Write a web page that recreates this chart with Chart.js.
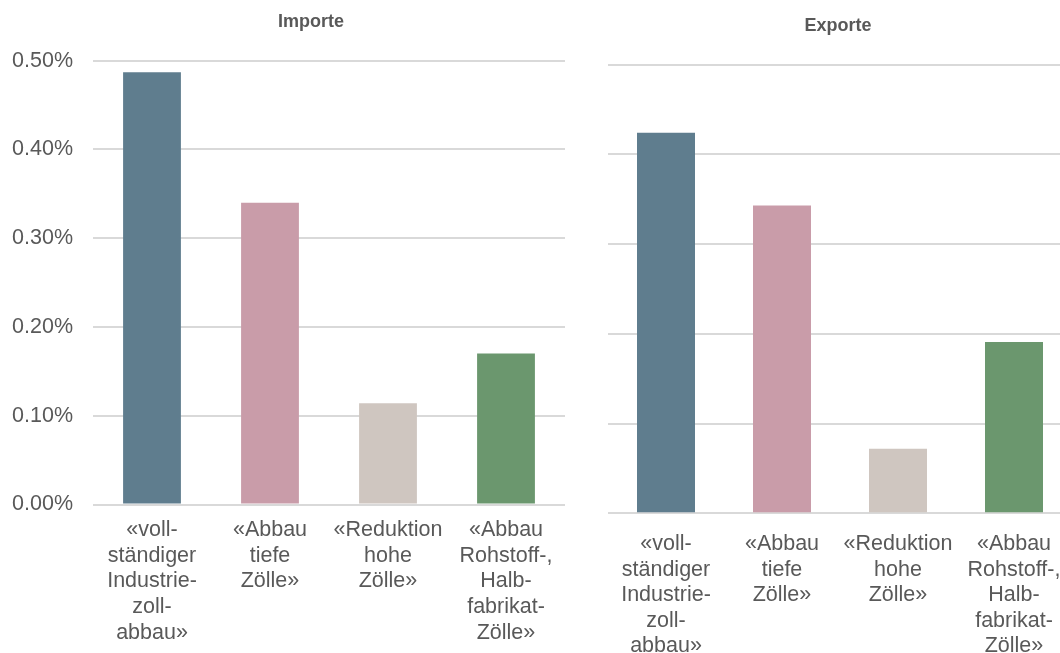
<!DOCTYPE html>
<html>
<head>
<meta charset="utf-8">
<script src="https://cdn.jsdelivr.net/npm/chart.js@4/dist/chart.umd.min.js"></script>
<style>
    html, body { margin: 0; padding: 0; background: #fff; overflow: hidden; width: 1060px; height: 653px; }
    canvas { position: absolute; top: 0; }
    #importChart { left: 0; }
    #exportChart { left: 560px; }
</style>
</head>
<body>
<canvas id="importChart" width="622" height="653"></canvas>
<canvas id="exportChart" width="556" height="653"></canvas>
<script>
// Scenario labels (one array entry per line)
const scenarios = [
    ['«voll-', 'ständiger', 'Industrie-', 'zoll-', 'abbau»'],
    ['«Abbau', 'tiefe', 'Zölle»'],
    ['«Reduktion', 'hohe', 'Zölle»'],
    ['«Abbau', 'Rohstoff-,', 'Halb-', 'fabrikat-', 'Zölle»']
];

// Change in percent
const importValues = [0.487, 0.340, 0.114, 0.170];
const exportValues = [0.424, 0.343, 0.072, 0.191];

const barColors = ['#5f7d8e', '#c99ca9', '#cfc6c0', '#6b976e'];

const textColor = '#595959';
const gridColor = '#d9d9d9';
const fontFamily = '"Liberation Sans", Arial, sans-serif';

Chart.defaults.font.family = fontFamily;
Chart.defaults.color = textColor;

// Centre the title on the whole canvas instead of the padded box
const fullWidthTitle = {
    id: 'fullWidthTitle',
    afterLayout(chart) {
        const t = chart.titleBlock;
        if (t) {
            t.left = 0;
            t.right = chart.width;
        }
    }
};

function makeChart(id, title, values, opts) {
    const ctx = document.getElementById(id).getContext('2d');
    return new Chart(ctx, {
        type: 'bar',
        data: {
            labels: scenarios,
            datasets: [{
                data: values,
                backgroundColor: barColors,
                borderWidth: 0,
                categoryPercentage: 1,
                barPercentage: opts.barPct
            }]
        },
        plugins: [fullWidthTitle],
        options: {
            responsive: false,
            devicePixelRatio: 1,
            animation: false,
            layout: {
                padding: { left: 0, right: opts.padRight, top: 0, bottom: 0 }
            },
            plugins: {
                legend: { display: false },
                tooltip: { enabled: false },
                title: {
                    display: true,
                    text: title,
                    color: textColor,
                    font: { size: 18, weight: 'bold', lineHeight: 1.2 },
                    padding: { top: opts.titleTop, bottom: opts.titleBottom }
                }
            },
            scales: {
                x: {
                    grid: { display: false, drawTicks: false },
                    border: { display: false },
                    ticks: {
                        color: textColor,
                        font: { size: 21.5, lineHeight: 1.19 },
                        padding: opts.labelPad,
                        maxRotation: 0,
                        autoSkip: false
                    },
                    afterFit: (scale) => { scale.height = opts.xHeight; }
                },
                y: {
                    min: 0,
                    max: 0.5,
                    grid: { color: gridColor, lineWidth: 2, drawTicks: false },
                    border: { display: false },
                    ticks: {
                        display: opts.showTicks,
                        stepSize: 0.1,
                        color: textColor,
                        font: { size: 21.5 },
                        padding: 20,
                        callback: (v) => v.toFixed(2) + '%'
                    },
                    afterFit: (scale) => { scale.width = opts.yWidth; }
                }
            }
        }
    });
}

document.addEventListener('DOMContentLoaded', () => {
    makeChart('importChart', 'Importe', importValues, {
        barPct: 0.49, padRight: 57, titleTop: 11, titleBottom: 28,
        labelPad: 13, xHeight: 148.5, showTicks: true, yWidth: 93
    });
    makeChart('exportChart', 'Exporte', exportValues, {
        barPct: 0.5, padRight: 44, titleTop: 15, titleBottom: 28,
        labelPad: 18, xHeight: 139.7, showTicks: false, yWidth: 48
    });
});
</script>
</body>
</html>
